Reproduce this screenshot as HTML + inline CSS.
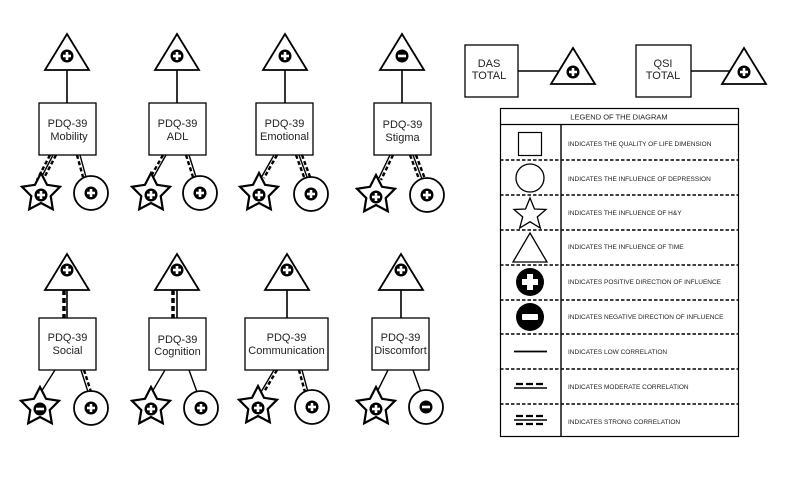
<!DOCTYPE html>
<html><head><meta charset="utf-8"><style>
html,body{margin:0;padding:0;background:#fff;width:797px;height:478px;overflow:hidden}
svg text{font-family:"Liberation Sans",Arial,sans-serif;fill:#222}
</style></head><body>
<svg width="797" height="478" viewBox="0 0 797 478" xmlns="http://www.w3.org/2000/svg">
<defs>
<path id="star" d="M0,-20 L6,-8.2 19,-6.2 9.7,3.1 11.8,16.2 0,10 -11.8,16.2 -9.7,3.1 -19,-6.2 -6,-8.2Z" fill="#fff" stroke="#000" stroke-width="2.2" stroke-linejoin="miter"/>
<g id="plus"><circle r="6.5" fill="#000"/><rect x="-4" y="-1.3" width="8" height="2.6" fill="#fff"/><rect x="-1.3" y="-4" width="2.6" height="8" fill="#fff"/></g>
<g id="minus"><circle r="6.5" fill="#000"/><rect x="-4" y="-1.3" width="8" height="2.6" fill="#fff"/></g>
<g id="tri"><path d="M0,-22 L22,14 L-22,14Z" fill="#fff" stroke="#000" stroke-width="1.8"/></g>
<g id="circ"><circle r="17" fill="#fff" stroke="#000" stroke-width="1.8"/></g>
</defs>
<g stroke="#000" fill="none" stroke-width="1.6">
<line x1="67" y1="70" x2="67" y2="103"/>
<line x1="177" y1="70" x2="177" y2="103"/>
<line x1="285" y1="70" x2="285" y2="103"/>
<line x1="402" y1="70" x2="402" y2="103"/>
<line x1="67" y1="290" x2="67" y2="318"/>
<line x1="64" y1="290" x2="64" y2="318" stroke-width="3.5" stroke-dasharray="5,3"/>
<line x1="177" y1="290" x2="177" y2="318"/>
<line x1="173" y1="290" x2="173" y2="318" stroke-width="3.5" stroke-dasharray="5,3"/>
<line x1="287" y1="290" x2="287" y2="318"/>
<line x1="401" y1="290" x2="401" y2="318"/>
<line x1="518" y1="71" x2="560" y2="71"/>
<line x1="691" y1="71" x2="732" y2="71"/>
</g>
<g stroke="#000" fill="none" stroke-width="1.4">
<line x1="53" y1="155" x2="40" y2="180"/>
<line x1="50" y1="155" x2="37" y2="180" stroke-width="2.4" stroke-dasharray="4,2.5"/>
<line x1="56" y1="155" x2="43" y2="180" stroke-width="2.4" stroke-dasharray="4,2.5"/>
<line x1="80" y1="155" x2="86" y2="177"/>
<line x1="77" y1="155" x2="83" y2="177" stroke-width="2.4" stroke-dasharray="4,2.5"/>
<line x1="166" y1="155" x2="153" y2="178"/>
<line x1="163" y1="155" x2="150" y2="178" stroke-width="2.4" stroke-dasharray="4,2.5"/>
<line x1="189" y1="155" x2="196" y2="177"/>
<line x1="186" y1="155" x2="193" y2="177" stroke-width="2.4" stroke-dasharray="4,2.5"/>
<line x1="274" y1="155" x2="261" y2="178"/>
<line x1="277" y1="155" x2="264" y2="178" stroke-width="2.4" stroke-dasharray="4,2.5"/>
<line x1="299" y1="155" x2="307" y2="177"/>
<line x1="296" y1="155" x2="304" y2="177" stroke-width="2.4" stroke-dasharray="4,2.5"/>
<line x1="302" y1="155" x2="310" y2="177" stroke-width="2.4" stroke-dasharray="4,2.5"/>
<line x1="390" y1="155" x2="378" y2="180"/>
<line x1="393" y1="155" x2="381" y2="180" stroke-width="2.4" stroke-dasharray="4,2.5"/>
<line x1="413" y1="155" x2="422" y2="179"/>
<line x1="410" y1="155" x2="419" y2="179" stroke-width="2.4" stroke-dasharray="4,2.5"/>
<line x1="416" y1="155" x2="425" y2="179" stroke-width="2.4" stroke-dasharray="4,2.5"/>
<line x1="55" y1="370" x2="41" y2="392"/>
<line x1="81" y1="370" x2="88" y2="392"/>
<line x1="84" y1="370" x2="91" y2="392" stroke-width="2.4" stroke-dasharray="4,2.5"/>
<line x1="165" y1="370" x2="152" y2="392"/>
<line x1="189" y1="370" x2="197" y2="392"/>
<line x1="274" y1="370" x2="261" y2="392"/>
<line x1="277" y1="370" x2="264" y2="392" stroke-width="2.4" stroke-dasharray="4,2.5"/>
<line x1="302" y1="370" x2="308" y2="392"/>
<line x1="299" y1="370" x2="305" y2="392" stroke-width="2.4" stroke-dasharray="4,2.5"/>
<line x1="388" y1="370" x2="377" y2="392"/>
<line x1="413" y1="370" x2="421" y2="392"/>
</g>
<use href="#tri" x="67" y="56"/><use href="#plus" x="67" y="56"/>
<use href="#tri" x="177" y="56"/><use href="#plus" x="177" y="56"/>
<use href="#tri" x="285" y="56"/><use href="#plus" x="285" y="56"/>
<use href="#tri" x="402" y="56"/><use href="#minus" x="402" y="56"/>
<use href="#tri" x="67" y="276"/><use href="#plus" x="67" y="270"/>
<use href="#tri" x="177" y="276"/><use href="#plus" x="177" y="270"/>
<use href="#tri" x="287" y="276"/><use href="#plus" x="287" y="270"/>
<use href="#tri" x="401" y="276"/><use href="#plus" x="401" y="270"/>
<use href="#tri" x="573" y="70"/><use href="#plus" x="573" y="72"/>
<use href="#tri" x="744" y="70"/><use href="#plus" x="744" y="72"/>
<use href="#star" x="41" y="193"/><use href="#plus" x="41" y="195"/>
<use href="#circ" x="91" y="193"/><use href="#plus" x="91" y="193"/>
<use href="#star" x="151" y="193"/><use href="#plus" x="151" y="195"/>
<use href="#circ" x="200" y="193"/><use href="#plus" x="200" y="193"/>
<use href="#star" x="259" y="193"/><use href="#plus" x="259" y="195"/>
<use href="#circ" x="311" y="194"/><use href="#plus" x="311" y="194"/>
<use href="#star" x="376" y="195"/><use href="#plus" x="376" y="197"/>
<use href="#circ" x="427" y="195"/><use href="#plus" x="427" y="195"/>
<use href="#star" x="40" y="407"/><use href="#minus" x="40" y="409"/>
<use href="#circ" x="91" y="408"/><use href="#plus" x="91" y="408"/>
<use href="#star" x="151" y="407"/><use href="#plus" x="151" y="409"/>
<use href="#circ" x="201" y="408"/><use href="#plus" x="201" y="408"/>
<use href="#star" x="258" y="406"/><use href="#plus" x="258" y="408"/>
<use href="#circ" x="312" y="407"/><use href="#plus" x="312" y="407"/>
<use href="#star" x="376" y="407"/><use href="#plus" x="376" y="409"/>
<use href="#circ" x="426" y="407"/><use href="#minus" x="426" y="407"/>
<g fill="#fff" stroke="#000" stroke-width="1.3">
<rect x="39" y="103" width="57" height="52"/>
<rect x="149" y="103" width="57" height="52"/>
<rect x="256" y="103" width="57" height="52"/>
<rect x="374" y="103" width="57" height="52"/>
<rect x="39" y="318" width="57" height="52"/>
<rect x="149" y="318" width="57" height="52"/>
<rect x="245" y="318" width="83" height="52"/>
<rect x="372" y="318" width="57" height="52"/>
<rect x="465" y="45" width="53" height="52"/>
<rect x="636" y="45" width="55" height="52"/>
</g>
<g font-size="11" text-anchor="middle">
<text x="67.5" y="127">PDQ-39</text><text x="69" y="140">Mobility</text>
<text x="177.5" y="127">PDQ-39</text><text x="177.5" y="140">ADL</text>
<text x="284.5" y="127">PDQ-39</text><text x="284.5" y="140">Emotional</text>
<text x="402.5" y="128">PDQ-39</text><text x="402.5" y="141">Stigma</text>
<text x="67.5" y="341">PDQ-39</text><text x="67.5" y="354">Social</text>
<text x="177.5" y="343">PDQ-39</text><text x="177.5" y="355">Cognition</text>
<text x="286.5" y="341">PDQ-39</text><text x="286.5" y="354">Communication</text>
<text x="400.5" y="341">PDQ-39</text><text x="400.5" y="354">Discomfort</text>
<text x="489" y="67">DAS</text><text x="489" y="79">TOTAL</text>
<text x="663" y="67">QSI</text><text x="663" y="79">TOTAL</text>
</g>
<g stroke="#000" fill="none">
<rect x="500.5" y="108.5" width="238" height="328" stroke-width="1.2"/>
<line x1="500" y1="124.5" x2="739" y2="124.5" stroke-width="1.2"/>
<line x1="561" y1="124" x2="561" y2="437" stroke-width="1.4"/>
<g stroke-width="1.4" stroke-dasharray="3.5,2">
<line x1="500" y1="160" x2="739" y2="160"/>
<line x1="500" y1="195" x2="739" y2="195"/>
<line x1="500" y1="230" x2="739" y2="230"/>
<line x1="500" y1="265" x2="739" y2="265"/>
<line x1="500" y1="300" x2="739" y2="300"/>
<line x1="500" y1="334" x2="739" y2="334"/>
<line x1="500" y1="369" x2="739" y2="369"/>
<line x1="500" y1="404" x2="739" y2="404"/>
</g>
<rect x="518.5" y="132.5" width="23" height="23" stroke-width="1.2"/>
<circle cx="530" cy="178" r="14" stroke-width="1.3"/>
<path d="M530,198 L534.5,209 546,209.5 537.3,217 540.3,228 530,221.8 519.7,228 522.7,217 514,209.5 525.5,209Z" stroke-width="1.3"/>
<path d="M530,233 L547,262 L513,262Z" stroke-width="1.3"/>
<line x1="514" y1="351.5" x2="547" y2="351.5" stroke-width="1.8"/>
<line x1="516" y1="384" x2="545" y2="384" stroke-width="2.2" stroke-dasharray="7,3"/>
<line x1="514" y1="388" x2="547" y2="388" stroke-width="1.4"/>
<line x1="516" y1="416" x2="545" y2="416" stroke-width="2.2" stroke-dasharray="7,3"/>
<line x1="514" y1="420" x2="547" y2="420" stroke-width="1.4"/>
<line x1="516" y1="424" x2="545" y2="424" stroke-width="2.2" stroke-dasharray="7,3"/>
</g>
<circle cx="530" cy="282" r="14" fill="#000"/>
<rect x="522" y="279" width="16" height="6" fill="#fff"/><rect x="527" y="274" width="6" height="16" fill="#fff"/>
<circle cx="530" cy="317" r="14" fill="#000"/>
<rect x="522" y="314" width="16" height="6" rx="1" fill="#fff"/>
<g font-size="6.5">
<text x="619" y="119.5" text-anchor="middle" font-size="7.5">LEGEND OF THE DIAGRAM</text>
<text x="568" y="146">INDICATES THE QUALITY OF LIFE DIMENSION</text>
<text x="568" y="181">INDICATES THE INFLUENCE OF DEPRESSION</text>
<text x="568" y="215">INDICATES THE INFLUENCE OF H&amp;Y</text>
<text x="568" y="249">INDICATES THE INFLUENCE OF TIME</text>
<text x="568" y="284">INDICATES POSITIVE DIRECTION OF INFLUENCE</text>
<text x="568" y="319">INDICATES NEGATIVE DIRECTION OF INFLUENCE</text>
<text x="568" y="354">INDICATES LOW CORRELATION</text>
<text x="568" y="389">INDICATES MODERATE CORRELATION</text>
<text x="568" y="424">INDICATES STRONG CORRELATION</text>
</g>
</svg>
</body></html>
